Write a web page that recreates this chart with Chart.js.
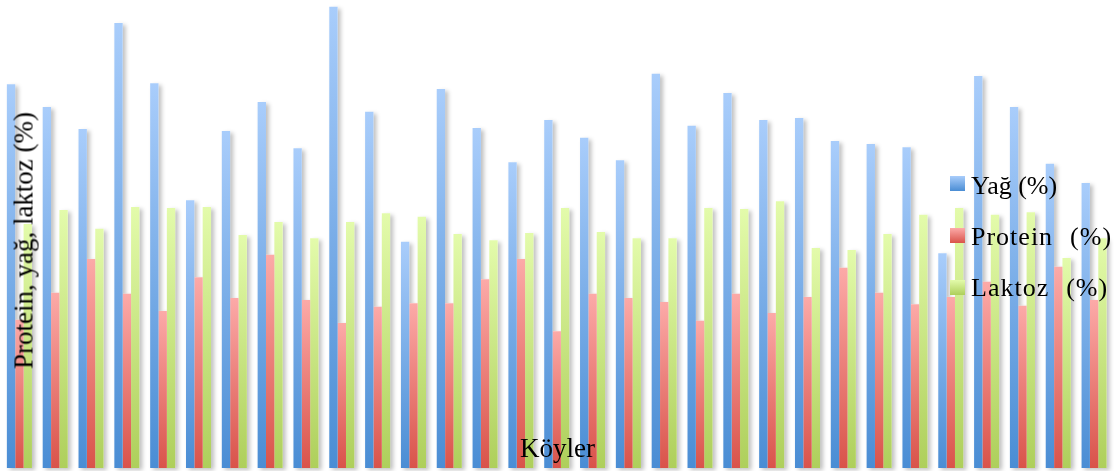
<!DOCTYPE html>
<html lang="tr">
<head>
<meta charset="utf-8">
<script src="https://cdn.jsdelivr.net/npm/chart.js@4/dist/chart.umd.min.js"></script>
<style>
  body { margin: 0; background: #fff; }
  #wrap { position: relative; width: 1119px; height: 471px; overflow: hidden; }
  .txt { position: absolute; font-family: "Liberation Serif", "Times New Roman", serif; color: #000; white-space: pre; }
  #ytitle { left: -126px; top: 226.5px; width: 300px; height: 27px; font-size: 27px; line-height: 27px; text-align: center; transform: rotate(-90deg); }
  #xtitle { left: 520px; top: 434.5px; font-size: 27px; line-height: 27px; }
  .leg { left: 971px; font-size: 26px; line-height: 26px; }
  .wide { letter-spacing: 1px; word-spacing: 1px; }
  .box { position: absolute; left: 950px; width: 15px; height: 15px; }
</style>
</head>
<body>
<div id="wrap">
  <canvas id="barChart" width="1119" height="471"></canvas>
  <div id="ytitle" class="txt">Protein, yağ, laktoz (%)</div>
  <div id="xtitle" class="txt">Köyler</div>
  <div class="box" style="top:176px;background:linear-gradient(#a9cdfb,#4a8dd4)"></div>
  <div class="txt leg" style="top:173px">Yağ (%)</div>
  <div class="box" style="top:228px;background:linear-gradient(#fcaaa8,#d9534a)"></div>
  <div class="txt leg wide" style="top:224px">Protein  (%)</div>
  <div class="box" style="top:280px;background:linear-gradient(#e3fbab,#aecf5b)"></div>
  <div class="txt leg wide" style="top:275px">Laktoz  (%)</div>
</div>
<script>
// köyler (x ekseni, etiketler gizli)
const labels = ['1','2','3','4','5','6','7','8','9','10','11','12','13','14','15','16',
    '17','18','19','20','21','22','23','24','25','26','27','28','29','30','31'];
// seriler (%)
const yag = [7.38, 6.94, 6.52, 8.56, 7.40, 5.15, 6.48, 7.04, 6.15, 8.87, 6.85, 4.35, 7.29, 6.54, 5.88, 6.69,
    6.35, 5.92, 7.58, 6.58, 7.21, 6.69, 6.73, 6.29, 6.23, 6.17, 4.13, 7.54, 6.94, 5.85, 5.48];
const protein = [2.85, 3.37, 4.02, 3.35, 3.02, 3.67, 3.27, 4.10, 3.23, 2.79, 3.10, 3.17, 3.17, 3.63, 4.02, 2.63,
    3.35, 3.27, 3.19, 2.83, 3.35, 2.98, 3.29, 3.85, 3.37, 3.15, 3.29, 3.58, 3.12, 3.87, 3.23];
const laktoz = [4.69, 4.96, 4.60, 5.02, 5.00, 5.02, 4.48, 4.73, 4.42, 4.73, 4.90, 4.83, 4.50, 4.38, 4.52, 5.00,
    4.54, 4.42, 4.42, 5.00, 4.98, 5.13, 4.23, 4.19, 4.50, 4.87, 5.00, 4.87, 4.92, 4.04, 4.42];

// her çubuk kendi tepesinden tabanına açık->koyu
function gradient(light, dark) {
    return (ctx) => {
        const chart = ctx.chart;
        if (!chart.chartArea || ctx.type !== 'data' || !chart.scales.y) return dark;
        const y = chart.scales.y;
        const top = y.getPixelForValue(ctx.raw);
        const base = y.getPixelForValue(0);
        const g = chart.ctx.createLinearGradient(0, top, 0, base);
        g.addColorStop(0, light);
        g.addColorStop(1, dark);
        return g;
    };
}

// gölgeler önce, çubuklar üstüne
const shadowPlugin = {
    id: 'barShadow',
    beforeDatasetsDraw(chart) {
        const c = chart.ctx;
        c.save();
        c.shadowColor = 'rgba(0,0,0,0.25)';
        c.shadowBlur = 4;
        c.shadowOffsetX = 3;
        c.shadowOffsetY = 2;
        c.fillStyle = '#fff';
        chart.getSortedVisibleDatasetMetas().forEach(meta => {
            meta.data.forEach(el => {
                c.fillRect(el.x - el.width / 2, el.y, el.width, el.base - el.y);
            });
        });
        c.restore();
    }
};

const chart = new Chart(document.getElementById('barChart').getContext('2d'), {
    type: 'bar',
    data: {
        labels: labels,
        datasets: [
            { label: 'Yağ (%)', data: yag, backgroundColor: gradient('#a9cdfb', '#4a8dd4') },
            { label: 'Protein  (%)', data: protein, backgroundColor: gradient('#fcaaa8', '#d9534a') },
            { label: 'Laktoz  (%)', data: laktoz, backgroundColor: gradient('#e3fbab', '#aecf5b') }
        ]
    },
    options: {
        responsive: false,
        animation: false,
        layout: { padding: { left: 1.5, right: 7, top: 0, bottom: 3 } },
        datasets: { bar: { categoryPercentage: 0.7, barPercentage: 1.0, borderWidth: 0 } },
        scales: {
            x: { display: false },
            y: { display: false, min: 0, max: 9 }
        },
        plugins: {
            legend: { display: false },
            tooltip: { enabled: false }
        }
    },
    plugins: [shadowPlugin]
});
</script>
</body>
</html>
